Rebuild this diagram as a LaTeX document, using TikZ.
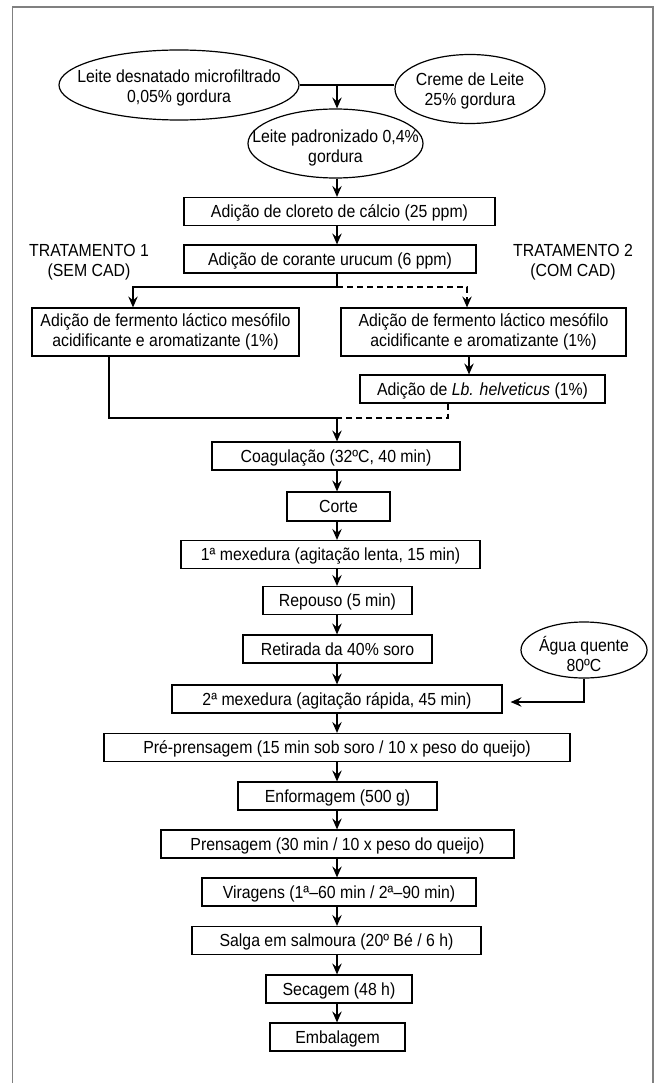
\documentclass[tikz,border=0pt]{standalone}
\usepackage{fontspec}
\setmainfont{Liberation Sans}[FakeStretch=0.905]
\usetikzlibrary{arrows.meta,shapes.geometric}

\begin{document}
\begin{tikzpicture}[
  x=1pt, y=-1pt,
  font=\fontsize{17.5}{20}\selectfont,
  stepbox/.style={rectangle, draw, line width=1.2pt, inner sep=0pt,
    minimum height=28pt, text height=16pt, text depth=3.5pt, align=center},
  pairbox/.style={rectangle, draw, line width=1.2pt, inner sep=0pt,
    minimum height=48pt, align=center},
  inputell/.style={ellipse, draw, line width=1.2pt, inner sep=0pt},
  elltext/.style={align=center, inner sep=0pt},
  tlabel/.style={align=center, inner sep=0pt},
  link/.style={line width=1.2pt},
  flow/.style={link, -{Stealth[length=11pt, width=9.5pt, inset=4pt]}},
  dashlink/.style={dash pattern=on 6pt off 4pt},
]
\useasboundingbox (0,0) rectangle (663,1083);

% Outer frame (open at the bottom)
\draw[black!50, line width=1.6pt] (12.5,1090) -- (12.5,7) -- (653,7) -- (653,1090);

% Milk inputs
\node[inputell, minimum width=240pt, minimum height=70pt] (skim) at (179,85) {};
\node[elltext] (skimtxt) at ([yshift=-3pt]skim.center)
  {Leite desnatado microfiltrado\\0,05\% gordura};
\node[inputell, minimum width=150pt, minimum height=69pt] (cream) at (470,89) {};
\node[elltext] (creamtxt) at ([yshift=-2pt]cream.center)
  {Creme de Leite\\25\% gordura};
\node[inputell, minimum width=175pt, minimum height=69pt] (std) at (335.5,143.5) {};
\node[elltext] (stdtxt) at ([yshift=-4pt]std.center)
  {Leite padronizado 0,4\%\\gordura};

% Common steps before the split
\node[stepbox, minimum width=311pt] (calcio) at (339.5,211.5)
  {Adição de cloreto de cálcio (25 ppm)};
\node[stepbox, minimum width=292pt] (urucum) at (330,259)
  {Adição de corante urucum (6 ppm)};

% Treatment labels
\node[tlabel] (trat1) at (89,262.5) {TRATAMENTO 1\\(SEM CAD)};
\node[tlabel] (trat2) at (573,262.5) {TRATAMENTO 2\\(COM CAD)};

% Treatment branches
\node[pairbox, minimum width=267pt] (ferm1) at (165.5,332)
  {Adição de fermento láctico mesófilo\\acidificante e aromatizante (1\%)};
\node[pairbox, minimum width=285pt] (ferm2) at (483.5,332)
  {Adição de fermento láctico mesófilo\\acidificante e aromatizante (1\%)};
\node[stepbox, minimum width=245pt] (helv) at (482.5,389)
  {Adição de \textit{Lb. helveticus} (1\%)};

% Cheese making
\node[stepbox, minimum width=248pt] (coag) at (336,456) {Coagulação (32ºC, 40 min)};
\node[stepbox, minimum width=103pt, minimum height=29pt] (corte) at (338.5,506.5) {Corte};
\node[stepbox, minimum width=299pt] (mex1) at (330.5,554.5)
  {1ª mexedura (agitação lenta, 15 min)};
\node[stepbox, minimum width=149pt] (repouso) at (337.5,600.5) {Repouso (5 min)};
\node[stepbox, minimum width=189pt] (retirada) at (337.5,649) {Retirada da 40\% soro};
\node[stepbox, minimum width=330pt] (mex2) at (337,699)
  {2ª mexedura (agitação rápida, 45 min)};
\node[inputell, minimum width=126pt, minimum height=56pt] (water) at (584,650) {};
\node[elltext] (watertxt) at ([yshift=-4pt]water.center) {Água quente\\80ºC};
\node[stepbox, minimum width=466pt] (pre) at (337,747.5)
  {Pré-prensagem (15 min sob soro / 10 x peso do queijo)};
\node[stepbox, minimum width=199pt] (enform) at (337.5,796) {Enformagem (500 g)};
\node[stepbox, minimum width=353pt] (prens) at (337.5,844)
  {Prensagem (30 min / 10 x peso do queijo)};
\node[stepbox, minimum width=274pt] (virag) at (339,892)
  {Viragens (1ª–60 min / 2ª–90 min)};
\node[stepbox, minimum width=289pt] (salga) at (336.5,940.5)
  {Salga em salmoura (20º Bé / 6 h)};
\node[stepbox, minimum width=146pt] (secagem) at (339,989) {Secagem (48 h)};
\node[stepbox, minimum width=135pt] (embal) at (337.5,1037) {Embalagem};

% Routing points
\coordinate (axis) at (337,0);
\coordinate (mix) at (337,86);
\coordinate (split) at (337,287);
\coordinate (merge) at (337,418);
\coordinate (drop1) at (133,0);
\coordinate (drop2) at (467,0);
\coordinate (rise1) at (109,0);
\coordinate (rise2) at (448,0);
\coordinate (helvx) at (469,0);

% Mixing the inputs
\draw[link] (skim.east) -- (skim.east -| cream.west);
\draw[flow] (mix) -- (std.north -| mix);
\draw[flow] (std.south -| axis) -- (calcio.north -| axis);
\draw[flow] (calcio.south -| axis) -- (urucum.north -| axis);

% Split into the two treatments
\draw[link] (urucum.south -| axis) -- (split);
\draw[flow] (split) -| (ferm1.north -| drop1);
\draw[flow, dashlink] (split) -| (ferm2.north -| drop2);
\draw[flow] (ferm2.south -| helvx) -- (helv.north -| helvx);

% Join again
\draw[link] (ferm1.south -| rise1) |- (merge);
\draw[link, dashlink] (helv.south -| rise2) |- (merge);
\draw[flow] (merge) -- (coag.north -| axis);

% Main line
\draw[flow] (coag.south -| axis) -- (corte.north -| axis);
\draw[flow] (corte.south -| axis) -- (mex1.north -| axis);
\draw[flow] (mex1.south -| axis) -- (repouso.north -| axis);
\draw[flow] (repouso.south -| axis) -- (retirada.north -| axis);
\draw[flow] (retirada.south -| axis) -- (mex2.north -| axis);
\draw[flow] (mex2.south -| axis) -- (pre.north -| axis);
\draw[flow] (pre.south -| axis) -- (enform.north -| axis);
\draw[flow] (enform.south -| axis) -- (prens.north -| axis);
\draw[flow] (prens.south -| axis) -- (virag.north -| axis);
\draw[flow] (virag.south -| axis) -- (salga.north -| axis);
\draw[flow] (salga.south -| axis) -- (secagem.north -| axis);
\draw[flow] (secagem.south -| axis) -- (embal.north -| axis);

% Hot water
\draw[flow, shorten >=8pt] (water.south) |- ([yshift=-3pt]mex2.east);

\end{tikzpicture}
\end{document}
